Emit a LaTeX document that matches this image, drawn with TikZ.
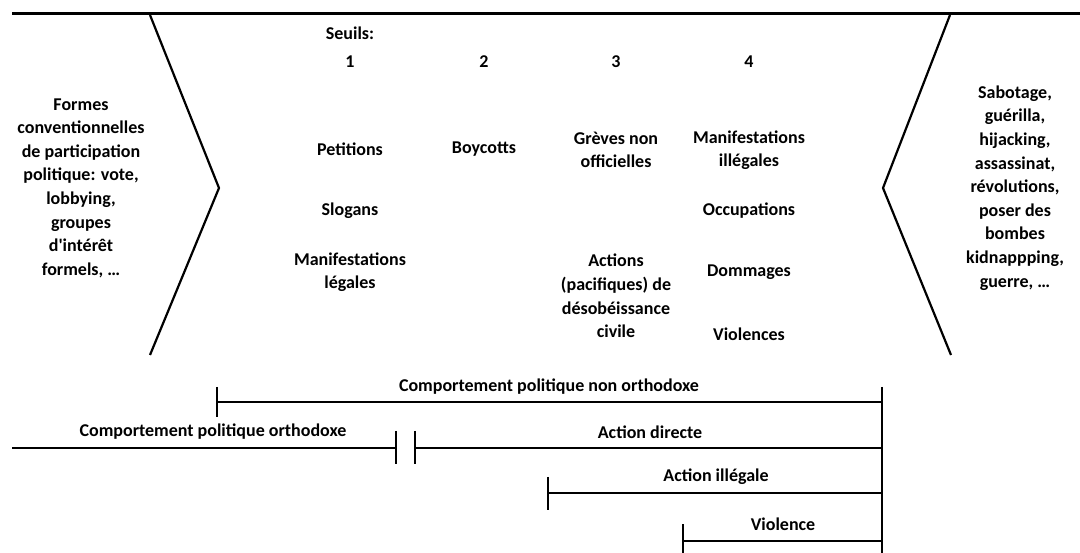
\documentclass[tikz,border=0pt]{standalone}
\usepackage{fontspec}
\setmainfont{Carlito}
\usetikzlibrary{calc}

\tikzset{
  lbl/.style={font=\bfseries\fontsize{18}{23.6}\selectfont, align=center, inner sep=0pt},
  bar/.style={line width=2.6pt},
  chev/.style={line width=2.2pt}
}

\begin{document}
\begin{tikzpicture}[x=1pt,y=-1pt]
			%%%%% START %%%%%
			\useasboundingbox (0,0) rectangle (1080,553);
			
			\draw[line width=3pt] (12,14) -- (1080,14);
			
			\draw[chev] (150,15) -- (219,188) -- (150,355);
			\draw[chev] (950,15) -- (883,188) -- (951,355);
			
			\node[lbl] (conv) at (81,188) {Formes\\conventionnelles\\de participation\\politique: vote,\\lobbying,\\groupes\\d\textquotesingle intérêt\\formels, \dots};
			\node[lbl] (extr) at (1015,188) {Sabotage,\\guérilla,\\hijacking,\\assassinat,\\révolutions,\\poser des\\bombes\\kidnappping,\\guerre, \dots};
			
			\node[lbl] (seuils) at (350,33) {Seuils:};
			\node[lbl] (s1) at (350,62) {1};
			\node[lbl] (s2) at (484,62) {2};
			\node[lbl] (s3) at (616,62) {3};
			\node[lbl] (s4) at (749,62) {4};
			
			\node[lbl] (petit) at (350,149) {Petitions};
			\node[lbl] (slog) at (350,211) {Slogans};
			\node[lbl] (manleg) at (350,272) {Manifestations\\légales};
			
			\node[lbl] (boyc) at (484,149) {Boycotts};
			
			\node[lbl] (greves) at (616,150) {Grèves non\\officielles};
			\node[lbl] (desob) at (616,296) {Actions\\(pacifiques) de\\désobéissance\\civile};
			
			\node[lbl] (manill) at (749,150) {Manifestations\\illégales};
			\node[lbl] (occup) at (749,211) {Occupations};
			\node[lbl] (domm) at (749,272) {Dommages};
			\node[lbl] (viol) at (749,334) {Violences};
			
			% echelle du bas
			\coordinate (fin) at (882,387);
			\coordinate (finbas) at (882,553);
			\draw[bar] (fin) -- (finbas);
			
			\coordinate (nonL) at (217,402);
			\coordinate (nonR) at (882,402);
			\draw[bar] (nonL) -- (nonR);
			\draw[bar] ($(nonL)+(0,-15)$) -- ($(nonL)+(0,15)$);
			\node[lbl] (nonortho) at (549,387) {Comportement politique non orthodoxe};
			
			\coordinate (orthoL) at (12,448);
			\coordinate (orthoR) at (396,448);
			\coordinate (dirL) at (415,448);
			\coordinate (dirR) at (882,448);
			\draw[bar] (orthoL) -- (orthoR);
			\draw[bar] ($(orthoR)+(0,-17)$) -- ($(orthoR)+(0,16)$);
			\draw[bar] (dirL) -- (dirR);
			\draw[bar] ($(dirL)+(0,-17)$) -- ($(dirL)+(0,16)$);
			\node[lbl] (ortho) at (213,432) {Comportement politique orthodoxe};
			\node[lbl] (direct) at (650,432) {Action directe};
			
			\coordinate (illL) at (548,493);
			\coordinate (illR) at (882,493);
			\draw[bar] (illL) -- (illR);
			\draw[bar] ($(illL)+(0,-16)$) -- ($(illL)+(0,17)$);
			\node[lbl] (illeg) at (716,477) {Action illégale};
			
			\coordinate (violL) at (683,541);
			\coordinate (violR) at (882,541);
			\draw[bar] (violL) -- (violR);
			\draw[bar] ($(violL)+(0,-17)$) -- (683,553);
			\node[lbl] (violence) at (783,524) {Violence};
			
			%%%%% END %%%%%
\end{tikzpicture}
\end{document}
